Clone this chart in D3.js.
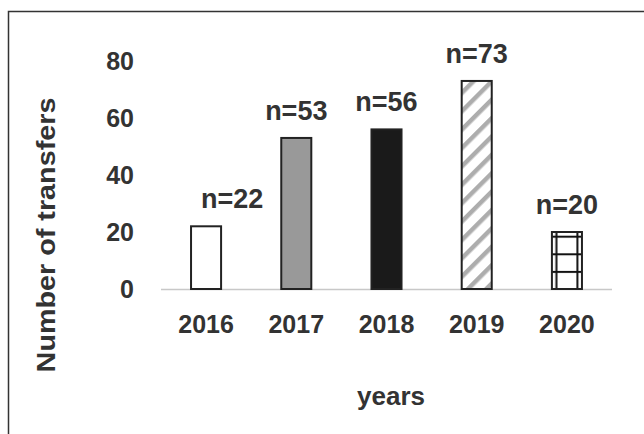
<!DOCTYPE html>
<html>
<head>
<meta charset="utf-8">
<script src="https://cdn.jsdelivr.net/npm/d3@7"></script>
<style>
  html, body { margin: 0; padding: 0; background: #fff; }
  svg { display: block; }
  text { font-family: "Liberation Sans", Arial, sans-serif; font-weight: bold; fill: #333; }
</style>
</head>
<body>
<svg id="chart" width="644" height="434"></svg>
<script>
// Transfers per year
const years = ["2016", "2017", "2018", "2019", "2020"];
const transfers = [22, 53, 56, 73, 20];
const yTicks = [0, 20, 40, 60, 80];
const fills = ["white", "gray", "black", "stripes", "grid"];

const svg = d3.select("#chart");
const W = 644, H = 434;
const FS = 25;
svg.append("rect").attr("width", W).attr("height", H).attr("fill", "#fff");

// Outer frame (left and top edges)
svg.append("path")
  .attr("d", "M8.5,434 V11.5 H644")
  .attr("fill", "none").attr("stroke", "#333").attr("stroke-width", 1.5);

const x = d3.scaleBand().domain(years).range([161, 612]).paddingInner(0.667).paddingOuter(0.333);
const y = d3.scaleLinear().domain([0, 80]).range([289, 61]);

const defs = svg.append("defs");

// Diagonal stripes
const stripes = defs.append("pattern")
  .attr("id", "stripes").attr("patternUnits", "userSpaceOnUse")
  .attr("width", 13).attr("height", 13)
  .attr("patternTransform", "rotate(45)");
stripes.append("rect").attr("width", 13).attr("height", 13).attr("fill", "#fff");
stripes.append("rect").attr("x", 0).attr("width", 4.5).attr("height", 13).attr("fill", "#adadad");

// Grid pattern anchored to the 2020 bar
const bw = x.bandwidth();
const gx = x("2020");
const cell = 17.6;
const grid = defs.append("pattern")
  .attr("id", "grid").attr("patternUnits", "userSpaceOnUse")
  .attr("x", gx).attr("y", y(0) - 0.5)
  .attr("width", bw).attr("height", cell);
grid.append("rect").attr("width", bw).attr("height", cell).attr("fill", "#fff");
grid.append("rect").attr("x", 3.5).attr("width", 2).attr("height", cell).attr("fill", "#111");
grid.append("rect").attr("x", bw - 5.5).attr("width", 2).attr("height", cell).attr("fill", "#111");
grid.append("rect").attr("y", 0).attr("width", bw).attr("height", 2).attr("fill", "#111");

const fillFor = f => ({ white: "#fff", gray: "#999", black: "#1a1a1a", stripes: "url(#stripes)", grid: "url(#grid)" })[f];

const data = years.map((yr, i) => ({ year: yr, value: transfers[i], fill: fills[i] }));

// Baseline
svg.append("line")
  .attr("x1", 161).attr("x2", 612)
  .attr("y1", y(0) + 0.5).attr("y2", y(0) + 0.5)
  .attr("stroke", "#c8c8c8").attr("stroke-width", 1.5);

// Bars
svg.append("g").selectAll("rect").data(data).join("rect")
  .attr("x", d => x(d.year))
  .attr("y", d => y(d.value))
  .attr("width", bw)
  .attr("height", d => y(0) - y(d.value))
  .attr("fill", d => fillFor(d.fill))
  .attr("stroke", "#222").attr("stroke-width", 2);

// Value labels (the first one sits a little to the right of its bar)
const labelNudge = d => d.year === "2016" ? 26 : 0;
svg.append("g").selectAll("text").data(data).join("text")
  .attr("x", d => x(d.year) + bw / 2 + labelNudge(d))
  .attr("y", d => y(d.value) - 18)
  .attr("text-anchor", "middle")
  .attr("font-size", 27)
  .text(d => "n=" + d.value);

// Y axis tick labels
const yAxis = d3.axisLeft(y).tickValues(yTicks).tickSize(0).tickPadding(0);
const gy = svg.append("g").attr("transform", "translate(134,0)").call(yAxis);
gy.select(".domain").remove();
gy.selectAll("text").attr("font-size", FS).attr("fill", "#333").attr("font-family", null).attr("dy", "0.35em");

// X axis tick labels
const xAxis = d3.axisBottom(x).tickSize(0).tickPadding(0);
const gxA = svg.append("g").attr("transform", `translate(0,${y(0) + 44})`).call(xAxis);
gxA.select(".domain").remove();
gxA.selectAll("text").attr("font-size", FS).attr("fill", "#333").attr("font-family", null).attr("dy", null);

// Axis titles
svg.append("text")
  .attr("transform", "translate(55,235) rotate(-90) scale(1.15,1)")
  .attr("text-anchor", "middle").attr("font-size", FS)
  .text("Number of transfers");
svg.append("text")
  .attr("x", 391).attr("y", 405)
  .attr("text-anchor", "middle").attr("font-size", 26)
  .text("years");
</script>
</body>
</html>
